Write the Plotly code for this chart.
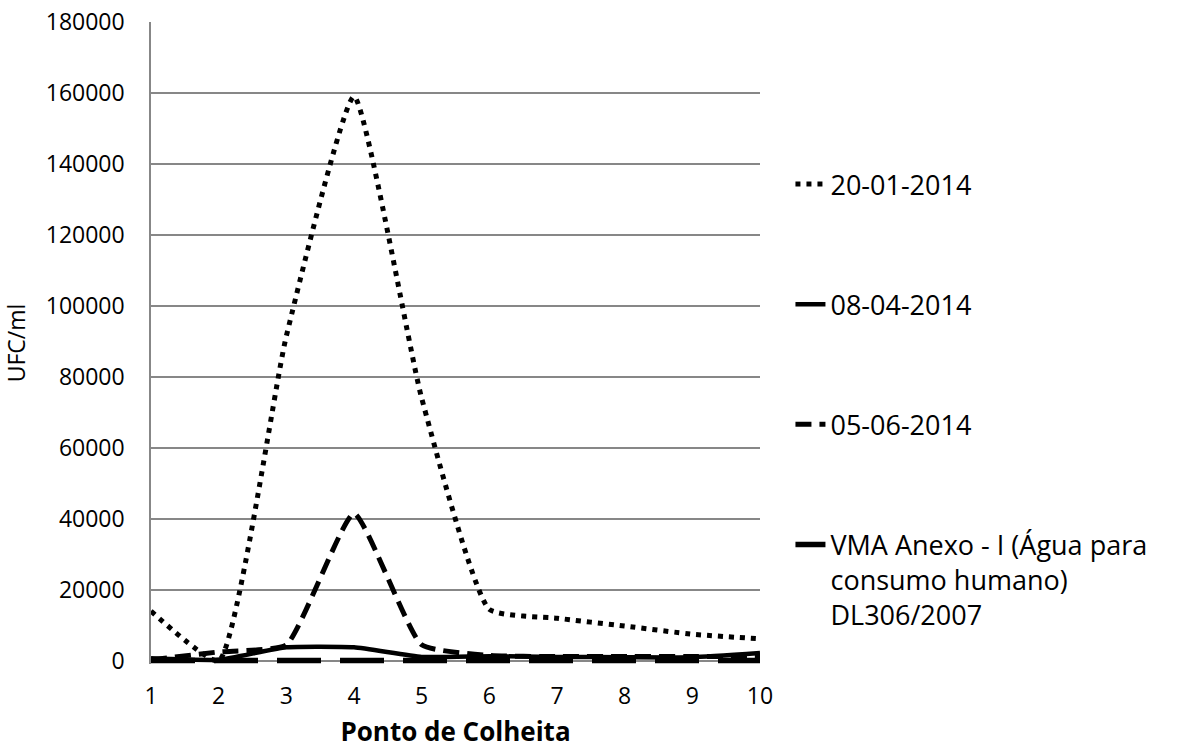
import plotly.graph_objects as go

pontos = [1, 2, 3, 4, 5, 6, 7, 8, 9, 10]
s_20_01_2014 = [14000, 0, 91500, 159000, 74000, 14500, 12000, 9800, 7500, 6200]
s_08_04_2014 = [700, 300, 3800, 3800, 1100, 1300, 1100, 1000, 1000, 2200]
s_05_06_2014 = [300, 2500, 4500, 41500, 4500, 1500, 1200, 1200, 1200, 1200]
s_vma = [100, 100, 100, 100, 100, 100, 100, 100, 100, 100]

names = ["20-01-2014", "08-04-2014", "05-06-2014",
         "VMA Anexo - I (Água para<br>consumo humano)<br>DL306/2007"]

FONT = "Open Sans"
GRID = "#878787"

fig = go.Figure()
fig.add_trace(go.Scatter(x=pontos, y=s_20_01_2014, name=names[0], mode="lines",
                         line=dict(color="black", width=5, dash="5px,6px", shape="spline", smoothing=0.45),
                         legendgroup="a"))
fig.add_trace(go.Scatter(x=pontos, y=s_08_04_2014, name=names[1], mode="lines",
                         line=dict(color="black", width=4.5, shape="spline", smoothing=0.45),
                         legendgroup="b"))
fig.add_trace(go.Scatter(x=pontos, y=s_05_06_2014, name=names[2], mode="lines",
                         line=dict(color="black", width=5, dash="16px,8px", shape="spline", smoothing=0.45),
                         legendgroup="c"))
fig.add_trace(go.Scatter(x=pontos, y=s_vma, name=names[3], mode="lines",
                         line=dict(color="black", width=5.5, dash="44px,19px"),
                         legendgroup="d"))

fig.update_layout(
    width=1183, height=749,
    margin=dict(l=151, r=423, t=22, b=85),
    paper_bgcolor="white", plot_bgcolor="white",
    font=dict(family=FONT, size=23, color="black"),
    showlegend=True,
    legend=dict(x=1.05, xanchor="left", y=0.785, yanchor="top",
                font=dict(family=FONT, size=27, color="black"),
                tracegroupgap=82, valign="top", bgcolor="rgba(0,0,0,0)"),
)
fig.update_xaxes(range=[1, 10], tick0=1, dtick=1, showgrid=False, zeroline=False,
                 showline=False, ticks="", ticklabelstandoff=16, automargin=False,
                 tickfont=dict(family=FONT, size=23),
                 title=dict(text="<b>Ponto de Colheita</b>", font=dict(family=FONT, size=26), standoff=15))
fig.update_yaxes(range=[-900, 180000], tick0=0, dtick=20000, showgrid=True, gridcolor=GRID, gridwidth=1.5,
                 zeroline=True, zerolinecolor=GRID, zerolinewidth=1.5,
                 showline=True, linecolor=GRID, linewidth=1.5, ticks="", ticklabelstandoff=20,
                 automargin=False, tickfont=dict(family=FONT, size=23), tickformat="d",
                 title=dict(text="UFC/ml", font=dict(family=FONT, size=23), standoff=30))

fig.write_html("out.html", config={"displayModeBar": False},
               post_script="document.body.style.margin='0px';")
